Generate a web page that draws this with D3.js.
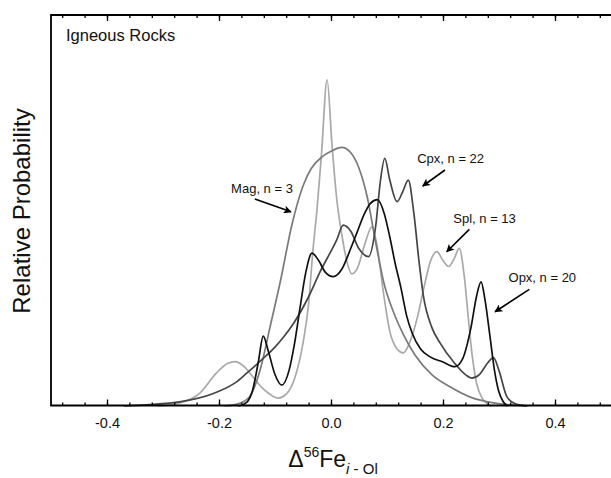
<!DOCTYPE html>
<html>
<head>
<meta charset="utf-8">
<script src="https://cdn.jsdelivr.net/npm/d3@7"></script>
<style>
  body { margin: 0; background: #fff; }
  svg { display: block; font-family: "Liberation Sans", Arial, Helvetica, sans-serif; }
</style>
</head>
<body>
<div id="chart"></div>
<script>
// Relative probability curves, [Δ56Fe, relative probability]
const mag = [[-0.19, 0], [-0.17, 0.004], [-0.155, 0.012], [-0.145, 0.024], [-0.125, 0.1], [-0.109, 0.2],
  [-0.09, 0.32], [-0.07, 0.46], [-0.05, 0.56], [-0.035, 0.605], [-0.015, 0.635], [0.0, 0.648],
  [0.019, 0.658], [0.035, 0.645], [0.05, 0.605], [0.065, 0.53], [0.078, 0.43], [0.095, 0.31],
  [0.11, 0.245], [0.13, 0.18], [0.15, 0.13], [0.18, 0.08], [0.2125, 0.049], [0.25, 0.022],
  [0.29, 0.008], [0.33, 0.002], [0.35, 0]];

const spl = [[-0.31, 0], [-0.27, 0.008], [-0.234, 0.033], [-0.204, 0.085], [-0.185, 0.108],
  [-0.171, 0.113], [-0.155, 0.1], [-0.14, 0.075], [-0.12, 0.042], [-0.105, 0.026], [-0.094, 0.02],
  [-0.08, 0.03], [-0.065, 0.07], [-0.05, 0.16], [-0.04, 0.26], [-0.032, 0.4], [-0.025, 0.5],
  [-0.017, 0.64], [-0.007, 0.83], [0.002, 0.66], [0.01, 0.53], [0.02, 0.43], [0.028, 0.37],
  [0.037, 0.336], [0.047, 0.35], [0.06, 0.41], [0.073, 0.456], [0.082, 0.41], [0.093, 0.295],
  [0.105, 0.19], [0.118, 0.145], [0.129, 0.135], [0.14, 0.16], [0.155, 0.23], [0.165, 0.295],
  [0.178, 0.37], [0.189, 0.393], [0.2, 0.37], [0.21, 0.355], [0.22, 0.375], [0.229, 0.401],
  [0.238, 0.33], [0.245, 0.227], [0.252, 0.13], [0.26, 0.058], [0.27, 0.02], [0.286, 0]];

const cpx = [[-0.37, 0], [-0.33, 0.003], [-0.268, 0.011], [-0.21, 0.032], [-0.17, 0.06],
  [-0.151, 0.083], [-0.121, 0.121], [-0.1, 0.15], [-0.085, 0.175], [-0.067, 0.21], [-0.04, 0.278],
  [-0.02, 0.34], [0.01, 0.422], [0.022, 0.46], [0.035, 0.445], [0.05, 0.4], [0.067, 0.38],
  [0.08, 0.46], [0.088, 0.57], [0.096, 0.63], [0.105, 0.575], [0.118, 0.52], [0.128, 0.545],
  [0.138, 0.575], [0.148, 0.49], [0.157, 0.37], [0.165, 0.28], [0.18, 0.2], [0.195, 0.16],
  [0.22, 0.11], [0.24, 0.08], [0.251, 0.071], [0.265, 0.08], [0.28, 0.11], [0.29, 0.123],
  [0.3, 0.09], [0.314, 0.024], [0.33, 0.005], [0.35, 0]];

const opx = [[-0.165, 0], [-0.15, 0.01], [-0.14, 0.04], [-0.13, 0.11], [-0.121, 0.178],
  [-0.112, 0.14], [-0.1, 0.08], [-0.088, 0.053], [-0.075, 0.09], [-0.065, 0.16], [-0.055, 0.253],
  [-0.045, 0.34], [-0.034, 0.389], [-0.022, 0.37], [-0.01, 0.34], [0.004, 0.329], [0.02, 0.35],
  [0.035, 0.4], [0.046, 0.44], [0.06, 0.49], [0.07, 0.515], [0.083, 0.525], [0.095, 0.49],
  [0.105, 0.43], [0.115, 0.36], [0.125, 0.3], [0.135, 0.23], [0.145, 0.185], [0.16, 0.145],
  [0.177, 0.125], [0.2, 0.112], [0.221, 0.1], [0.235, 0.12], [0.25, 0.2], [0.26, 0.28],
  [0.268, 0.316], [0.275, 0.27], [0.284, 0.176], [0.292, 0.09], [0.299, 0.04], [0.307, 0.012],
  [0.315, 0]];

const seriesNames = ["Spl", "Mag", "Cpx", "Opx"];
const seriesCounts = [13, 3, 22, 20];

const majorTicks = [-0.4, -0.2, 0.0, 0.2, 0.4];
const majorTickLabels = ["-0.4", "-0.2", "0.0", "0.2", "0.4"];
const minorTicks = d3.range(-12, 13).map(i => i * 0.04);

// label anchor and arrow [from, to], in data units
const annotations = [
  { name: "Mag", at: [-0.068, 0.542], anchor: "end", arrow: [[-0.136, 0.527], [-0.0714, 0.494]] },
  { name: "Cpx", at: [0.154, 0.618], anchor: "start", arrow: [[0.2036, 0.6005], [0.1638, 0.5598]] },
  { name: "Spl", at: [0.2184, 0.465], anchor: "start", arrow: [[0.247, 0.4496], [0.2066, 0.3926]] },
  { name: "Opx", at: [0.317, 0.316], anchor: "start", arrow: [[0.3541, 0.2969], [0.2929, 0.2399]] }
];

const colors = { Spl: "#a9a9a9", Mag: "#7a7a7a", Cpx: "#454545", Opx: "#111" };
const seriesData = { Spl: spl, Mag: mag, Cpx: cpx, Opx: opx };

const width = 611, height = 478;
const plotLeft = 51, plotTop = 15, plotBottom = 405.5;

const x = d3.scaleLinear().domain([-0.5, 0.5]).range([plotLeft, width]);
const y = d3.scaleLinear().domain([0, 1]).range([406, 13]);

const svg = d3.select("#chart").append("svg")
    .attr("width", width)
    .attr("height", height);

// curves
const line = d3.line()
    .x(d => x(d[0]))
    .y(d => y(d[1]))
    .curve(d3.curveMonotoneX);

svg.append("g")
    .selectAll("path")
    .data(seriesNames)
    .join("path")
    .attr("d", d => line(seriesData[d]))
    .attr("fill", "none")
    .attr("stroke", d => colors[d])
    .attr("stroke-width", 1.7);

// axes: ticks point inward
const axisStyle = g => {
    g.select(".domain").remove();
    g.selectAll("line").attr("stroke", "#000").attr("stroke-width", 1.3);
};

svg.append("g")
    .attr("transform", `translate(0,${plotBottom})`)
    .call(d3.axisBottom(x).tickValues(minorTicks).tickSize(-3).tickFormat(""))
    .call(axisStyle);

svg.append("g")
    .attr("transform", `translate(0,${plotBottom})`)
    .call(d3.axisBottom(x).tickValues(majorTicks).tickSize(-6).tickPadding(12)
        .tickFormat((d, i) => majorTickLabels[i]))
    .call(axisStyle)
    .call(g => g.selectAll("text")
        .attr("fill", "#111")
        .style("font-size", "14.5px")
        .style("font-family", "'Liberation Sans', Arial, sans-serif"));

svg.append("g")
    .attr("transform", `translate(0,${plotTop})`)
    .call(d3.axisTop(x).tickValues(minorTicks).tickSize(-3).tickFormat(""))
    .call(axisStyle);

svg.append("g")
    .attr("transform", `translate(0,${plotTop})`)
    .call(d3.axisTop(x).tickValues(majorTicks).tickSize(-6).tickFormat(""))
    .call(axisStyle);

// frame
svg.append("path")
    .attr("d", `M${width},${plotTop}H${plotLeft}V${plotBottom}H${width}`)
    .attr("fill", "none")
    .attr("stroke", "#000")
    .attr("stroke-width", 1.8);

// panel label
svg.append("text")
    .attr("x", 66)
    .attr("y", 41)
    .attr("fill", "#111")
    .style("font-size", "16.5px")
    .text("Igneous Rocks");

// y axis title
svg.append("text")
    .attr("transform", "translate(30,211) rotate(-90)")
    .attr("text-anchor", "middle")
    .attr("fill", "#111")
    .style("font-size", "24px")
    .text("Relative Probability");

// x axis title
const xt = svg.append("text")
    .attr("x", 333)
    .attr("y", 467)
    .attr("text-anchor", "middle")
    .attr("fill", "#111")
    .style("font-size", "23px");
xt.append("tspan").text("\u0394");
xt.append("tspan").attr("dy", -10).style("font-size", "14px").text("56");
xt.append("tspan").attr("dy", 10).text("Fe");
xt.append("tspan").attr("dy", 7).style("font-size", "15px").style("font-style", "italic").text("i");
xt.append("tspan").style("font-size", "15px").text(" - Ol");

// arrowhead
svg.append("defs").append("marker")
    .attr("id", "head")
    .attr("viewBox", "0 0 10 10")
    .attr("refX", 9)
    .attr("refY", 5)
    .attr("markerUnits", "userSpaceOnUse")
    .attr("markerWidth", 10)
    .attr("markerHeight", 8)
    .attr("orient", "auto")
    .append("path")
    .attr("d", "M0,0L10,5L0,10L2.5,5Z")
    .attr("fill", "#000");

// annotations
const ann = svg.append("g");
ann.selectAll("line")
    .data(annotations)
    .join("line")
    .attr("x1", d => x(d.arrow[0][0]))
    .attr("y1", d => y(d.arrow[0][1]))
    .attr("x2", d => x(d.arrow[1][0]))
    .attr("y2", d => y(d.arrow[1][1]))
    .attr("stroke", "#000")
    .attr("stroke-width", 1.6)
    .attr("marker-end", "url(#head)");

ann.selectAll("text")
    .data(annotations)
    .join("text")
    .attr("x", d => x(d.at[0]))
    .attr("y", d => y(d.at[1]))
    .attr("text-anchor", d => d.anchor)
    .attr("fill", "#111")
    .style("font-size", "13px")
    .text(d => `${d.name}, n = ${seriesCounts[seriesNames.indexOf(d.name)]}`);
</script>
</body>
</html>
